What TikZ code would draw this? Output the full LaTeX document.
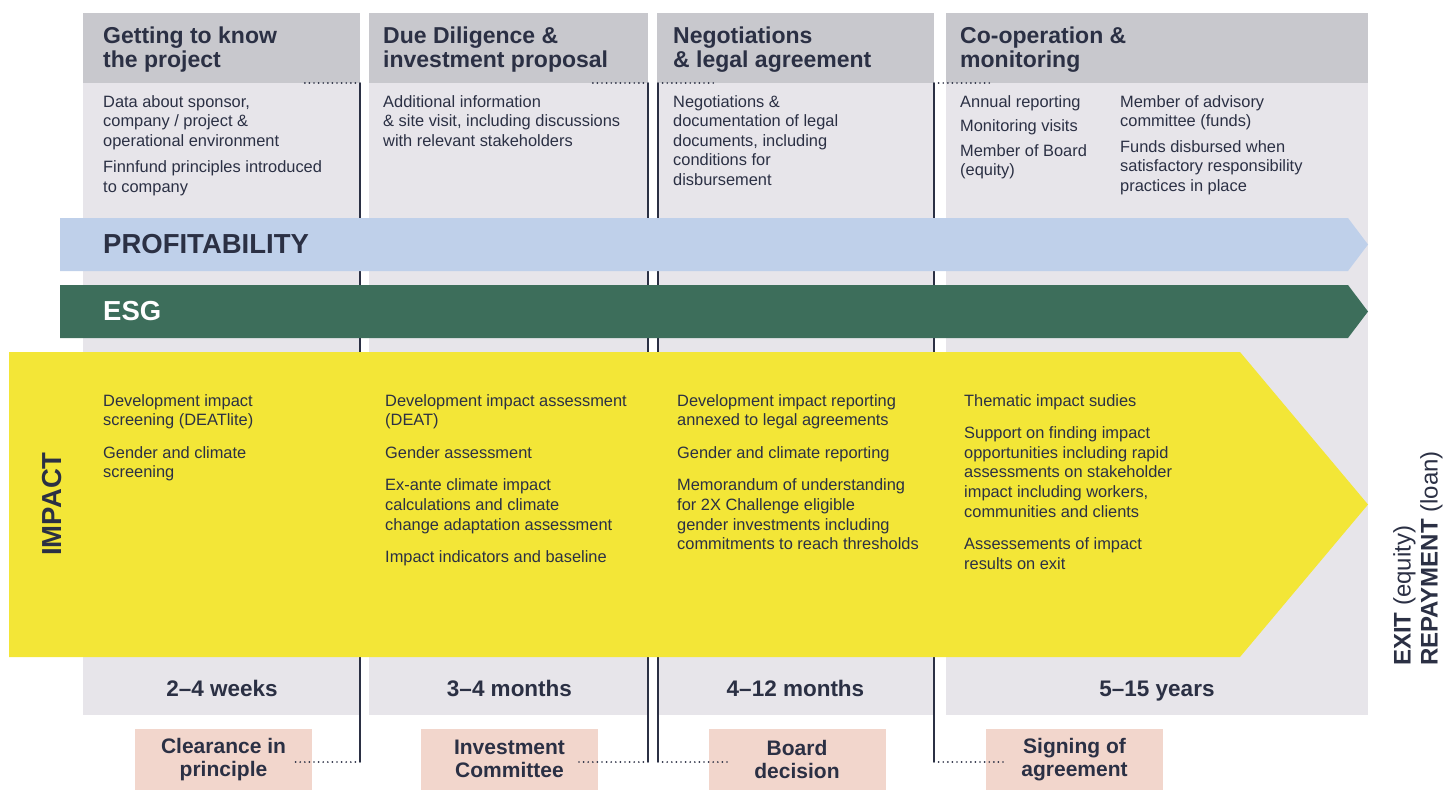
\documentclass[tikz,border=0pt]{standalone}
\usepackage{fontspec}
\setmainfont{Liberation Sans}
\usetikzlibrary{positioning}

\definecolor{navy}{HTML}{2B3044}
\definecolor{headgray}{HTML}{C8C8CD}
\definecolor{bodygray}{HTML}{E7E5EA}
\definecolor{profblue}{HTML}{BFD0EA}
\definecolor{esggreen}{HTML}{3D6E5B}
\definecolor{impyellow}{HTML}{F3E637}
\definecolor{milepink}{HTML}{F2D6CC}

\begin{document}
\begin{tikzpicture}[x=1pt, y=-1pt, auto, swap,
  headtxt/.style={anchor=north west, inner sep=0, align=left, text=navy, font=\fontsize{23}{24}\selectfont\bfseries},
  bodytxt/.style={anchor=north west, inner sep=0, align=left, text=navy, font=\fontsize{16.4}{19.6}\selectfont},
  bandtxt/.style={anchor=west, inner sep=0, font=\fontsize{27.5}{30}\selectfont\bfseries},
  timetxt/.style={anchor=base, inner sep=0, text=navy, font=\fontsize{22.5}{24}\selectfont\bfseries},
  milebox/.style={fill=milepink, minimum width=177, minimum height=61, inner sep=0, align=center, text=navy, font=\fontsize{21}{23}\selectfont\bfseries},
  gate/.style={navy, line width=2},
  dots/.style={navy, line width=1.9, line cap=round, dash pattern=on 0pt off 4.6pt}
]
 \useasboundingbox (0,0) rectangle (1452,790);

 %columns
 \foreach \i/\xa/\xb in {1/83/360, 2/369/648, 3/657/934, 4/946/1368} {
         \fill[headgray] (\xa,13) rectangle (\xb,83);
         \fill[bodygray] (\xa,83) rectangle (\xb,715);
 }

 %milestones
 \node[milebox] (clear) at (223.5,759.5) {Clearance in\\principle};
 \node[milebox] (invc)  at (509.5,759) {Investment\\Committee};
 \node[milebox] (board) at (797,759)   {Board\\decision};
 \node[milebox] (sign)  at (1074.5,759.5) {Signing of\\agreement};

 %gates
 \foreach \g/\xg/\dt/\ms/\side/\ds in {g1/360/-58/clear/east/-20, g2/648/-58/invc/east/-20, g3/658/58/board/west/20, g4/934/58/sign/west/20} {
         \coordinate (\g t) at (\xg,83);
         \coordinate (\g b) at (\xg,762);
         \draw[gate] (\g t) -- (\g b);
         \draw[dots] (\g t) -- ++(\dt,0);
         \draw[dots] (\g b) -- ([xshift=\ds]\ms.\side |- \g b);
 }

 %bands
 \fill[profblue] (60,218) -- (1348,218) -- (1368,244.5) -- (1348,271) -- (60,271) -- cycle;
 \fill[esggreen] (60,285) -- (1348,285) -- (1368,311.5) -- (1348,338) -- (60,338) -- cycle;
 \fill[impyellow] (9,352) -- (1240,352) -- (1368,504.5) -- (1240,657) -- (9,657) -- cycle;
 \node[bandtxt, text=navy] (prof) at (103,244.5) {PROFITABILITY};
 \node[bandtxt, text=white] (esg) at (103,311.5) {ESG};
 \node[bandtxt, text=navy, rotate=90, anchor=center] (imp) at (52,504) {IMPACT};

 %headers
 \node[headtxt] (h1) at (103,27) {Getting to know\\the project};
 \node[headtxt] (h2) at (383,27) {Due Diligence \&\\investment proposal};
 \node[headtxt] (h3) at (673,27) {Negotiations\\\& legal agreement};
 \node[headtxt] (h4) at (960,27) {Co-operation \&\\monitoring};

 %activities
 \node[bodytxt] (d1) at (103,95) {Data about sponsor,\\company / project \&\\operational environment\\[7pt]Finnfund principles introduced\\to company};
 \node[bodytxt] (d2) at (383,95) {Additional information\\\& site visit, including discussions\\with relevant stakeholders};
 \node[bodytxt] (d3) at (673,95) {Negotiations \&\\documentation of legal\\documents, including\\conditions for\\disbursement};
 \node[bodytxt] (d4) at (960,95) {Annual reporting\\[5pt]Monitoring visits\\[5pt]Member of Board\\(equity)};
 \node[bodytxt] (d5) at (1120,95) {Member of advisory\\committee (funds)\\[6pt]Funds disbursed when\\satisfactory responsibility\\practices in place};

 %impact
 \node[bodytxt] (i1) at (103,394) {Development impact\\screening (DEATlite)\\[13pt]Gender and climate\\screening};
 \node[bodytxt] (i2) at (385,394) {Development impact assessment\\(DEAT)\\[13pt]Gender assessment\\[13pt]Ex-ante climate impact\\calculations and climate\\change adaptation assessment\\[13pt]Impact indicators and baseline};
 \node[bodytxt] (i3) at (677,394) {Development impact reporting\\annexed to legal agreements\\[13pt]Gender and climate reporting\\[13pt]Memorandum of understanding\\for 2X Challenge eligible\\gender investments including\\commitments to reach thresholds};
 \node[bodytxt] (i4) at (964,394) {Thematic impact sudies\\[13pt]Support on finding impact\\opportunities including rapid\\assessments on stakeholder\\impact including workers,\\communities and clients\\[13pt]Assessements of impact\\results on exit};

 %durations
 \foreach \i/\xc/\name in {1/222/2–4 weeks, 2/509.5/3–4 months, 3/795.5/4–12 months, 4/1157/5–15 years} {
         \node[timetxt] (t\i) at (\xc,696) {\name};
 }

 %exit
 \node[rotate=90, anchor=west, align=left, inner sep=0, text=navy, font=\fontsize{24}{27}\selectfont] (exit) at (1418,666) {\textbf{EXIT} (equity)\\\textbf{REPAYMENT} (loan)};

\end{tikzpicture}
\end{document}
